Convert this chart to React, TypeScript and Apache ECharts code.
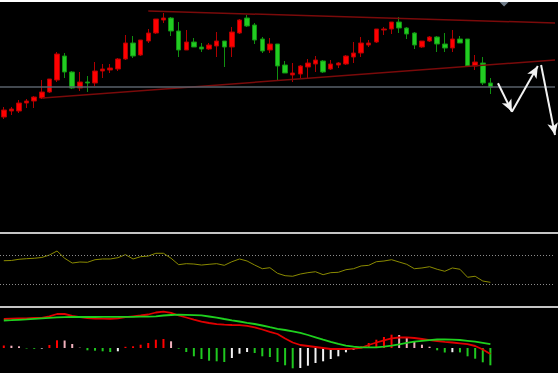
import React, { useEffect, useRef } from "react";
import * as echarts from "echarts";

// ---- data ----
const SLOT_COUNT = 73; // category slots (65 traded, the rest room for the forecast arrows)
const categories = Array.from({ length: SLOT_COUNT }, (_, i) => `D${i + 1}`);

// [open, close, low, high]
const candles = [
  [114, 121, 112, 124], [120, 122, 116, 124], [120, 128, 118, 131], [128, 130, 123, 132],
  [130, 134, 123, 135], [133, 139, 132, 151], [139, 152, 138, 152], [151, 177, 149, 179],
  [175, 159, 153, 178], [159, 143, 142, 160], [143, 149, 140, 159], [149, 148, 139, 155],
  [148, 160, 145, 169], [160, 162, 153, 167], [161, 163, 158, 167], [162, 172, 160, 173],
  [172, 188, 171, 196], [188, 175, 173, 195], [176, 191, 175, 191], [190, 198, 188, 202],
  [198, 212, 197, 212], [211, 213, 208, 218], [213, 200, 195, 214], [200, 181, 174, 209],
  [181, 189, 181, 201], [189, 184, 184, 193], [184, 182, 179, 188], [182, 186, 181, 188],
  [185, 190, 174, 199], [190, 184, 164, 190], [184, 199, 174, 204], [198, 211, 197, 212],
  [213, 205, 204, 216], [206, 191, 187, 208], [192, 180, 178, 194], [181, 187, 178, 193],
  [187, 165, 151, 187], [166, 158, 158, 170], [156, 158, 149, 168], [157, 165, 153, 166],
  [164, 168, 153, 172], [167, 171, 159, 175], [170, 159, 158, 171], [162, 167, 161, 171],
  [166, 168, 163, 169], [167, 175, 166, 176], [174, 178, 168, 189], [178, 188, 174, 194],
  [186, 188, 184, 191], [189, 202, 188, 202], [201, 202, 196, 204], [202, 209, 197, 209],
  [209, 203, 198, 214], [203, 197, 192, 204], [198, 186, 182, 199], [184, 190, 183, 190],
  [190, 194, 189, 195], [194, 187, 179, 195], [187, 183, 179, 198], [183, 192, 179, 201],
  [192, 188, 188, 195], [192, 165, 165, 192], [165, 169, 161, 176], [168, 148, 146, 174],
  [148, 144, 137, 153],
];

const rsi = [
  62.9, 63.2, 64.9, 65.7, 66.3, 67.4, 70.8, 76.4, 66.3, 59.7,
  61.1, 60.7, 64.3, 65.3, 65.3, 67.1, 71.3, 65.3, 68.5, 69.4,
  73.2, 73.2, 66.3, 57.4, 58.8, 58.3, 56.9, 57.9, 58.8, 56.5,
  61.5, 65.3, 62.5, 56.9, 51.8, 53.2, 45.4, 42.1, 41.3, 44.4,
  46.3, 47.6, 43.5, 46.3, 46.8, 50.4, 51.8, 55.6, 56.5, 61.5,
  62.5, 64.3, 61.1, 57.9, 51.8, 52.8, 54.6, 51, 48.2, 52.8,
  51, 39.9, 41.3, 34.7, 32.9,
];
const rsiLevels = [70, 30];

const dif = [
  29, 29.3, 29.5, 29.7, 30, 30.2, 31.7, 34, 34, 32.2,
  30.8, 29.8, 29.5, 29.3, 29.2, 29.7, 30.8, 31.7, 32.5, 33.5,
  35.5, 36.3, 35.2, 32.5, 30.5, 28.4, 26.4, 25, 23.8, 23.3,
  23, 22.8, 22.2, 20.7, 18.5, 16.2, 14, 9.5, 5.5, 3,
  2, 1, 0, -1, -1, -1, -0.7, 0.2, 3, 5.5,
  7.7, 9.7, 10.5, 10.6, 10, 9, 7.8, 7, 6.2, 5.5,
  4.7, 3.8, 2, -1.5, -6,
];
const dea = [
  27.5, 27.8, 28.2, 28.6, 29.1, 29.6, 30.1, 30.6, 30.8, 31,
  31, 31, 31, 31.1, 31.1, 31.1, 31.2, 31.2, 31.3, 31.4,
  31.7, 32.5, 33, 33.3, 33.2, 32.9, 32.6, 31.5, 30.4, 29,
  27.7, 26.5, 25.2, 24, 22.5, 20.8, 19.2, 18, 16.7, 15.1,
  13, 10.7, 8.4, 6.2, 4.1, 2.3, 1.3, 0.7, 0.6, 0.7,
  1.3, 2.3, 3.7, 5.2, 6.4, 7.2, 7.9, 8.5, 8.6, 8.4,
  8, 7.2, 6.4, 5.2, 3.8,
];
const macdHist = [
  2.5, 2.3, 1.7, -0.5, -0.8, -0.6, 3, 7.7, 7.5, 4,
  0.3, -2.3, -2.7, -3.3, -4, -3.3, 1.2, 1.7, 3.3, 5,
  8.3, 9, 6.7, -0.7, -4, -8.3, -11, -12.7, -13.3, -14,
  -10, -5.7, -4, -5, -8.3, -9, -14, -17.3, -20.3, -20,
  -17.7, -15, -13.3, -11, -8.3, -4.3, -1.7, 1.7, 5, 8.3,
  11, 13.3, 13, 10, 6, 3.3, 1.3, -2.3, -4.5, -4.2,
  -4.4, -8.3, -10.7, -14.3, -17.3,
];

const lastPriceLine = 144;
// trend lines and forecast arrows: [slot index, price]
const upperTrend = [[19, 220], [72.5, 208]];
const lowerTrend = [[5.1, 133], [72.5, 171]];
const arrowPaths = [
  [[65.0, 147.7], [66.83, 119.3]],
  [[66.83, 119.3], [70.24, 165]],
  [[70.67, 166], [72.5, 96]],
];
const markerPoint = [65.8, 227];

function histColor(i: number) {
  const v = macdHist[i];
  const prev = i > 0 ? macdHist[i - 1] : v;
  if (v >= 0) return v >= prev ? "#ff0000" : "#f0b0bc";
  return v <= prev ? "#1fc81f" : "#f2f2f2";
}

export default function App() {
  const ref = useRef<HTMLDivElement>(null);
  useEffect(() => {
    if (!ref.current) return;
    const chart = echarts.init(ref.current, undefined, { renderer: "svg" });
    const gridBase = { left: -3, right: 3 };
    const option: any = {
      animation: false,
      backgroundColor: "#000000",
      grid: [
        { ...gridBase, top: 0, height: 231 },
        { ...gridBase, top: 234, height: 72 },
        { ...gridBase, top: 308, height: 65 },
      ],
      xAxis: [
        { type: "category", data: categories, gridIndex: 0, show: false },
        { type: "value", gridIndex: 0, min: -0.5, max: SLOT_COUNT - 0.5, show: false },
        { type: "category", data: categories, gridIndex: 1, show: false },
        { type: "category", data: categories, gridIndex: 2, show: false },
      ],
      yAxis: [
        { type: "value", gridIndex: 0, min: 0, max: 231, show: false },
        { type: "value", gridIndex: 1, min: 0, max: 100, show: false },
        { type: "value", gridIndex: 2, min: -25, max: 40, show: false },
      ],
      series: [
        {
          type: "candlestick",
          xAxisIndex: 0,
          yAxisIndex: 0,
          data: candles,
          barWidth: 5,
          itemStyle: {
            color: "#ff0000",
            color0: "#22cc22",
            borderColor: "#b00000",
            borderColor0: "#109010",
            borderWidth: 1,
          },
          markLine: {
            silent: true,
            symbol: "none",
            label: { show: false },
            lineStyle: { color: "#58616a", width: 1.5, type: "solid" },
            data: [{ yAxis: lastPriceLine }],
          },
        },
        {
          type: "line",
          xAxisIndex: 1,
          yAxisIndex: 0,
          data: upperTrend,
          showSymbol: false,
          clip: false,
          lineStyle: { color: "#7a0a0a", width: 1.5 },
          markLine: {
            silent: true,
            symbol: ["none", "arrow"],
            symbolSize: [8, 12],
            label: { show: false },
            lineStyle: { color: "#f2f2f2", width: 2, type: "solid" },
            data: arrowPaths.map((p) => [{ coord: p[0] }, { coord: p[1] }]),
          },
          markPoint: {
            silent: true,
            symbol: "triangle",
            symbolRotate: 180,
            symbolSize: [10, 5],
            label: { show: false },
            itemStyle: { color: "#6f7c89" },
            data: [{ coord: markerPoint }],
          },
        },
        {
          type: "line",
          xAxisIndex: 1,
          yAxisIndex: 0,
          data: lowerTrend,
          showSymbol: false,
          lineStyle: { color: "#7a0a0a", width: 1.5 },
        },
        {
          type: "line",
          xAxisIndex: 2,
          yAxisIndex: 1,
          data: rsi,
          showSymbol: false,
          lineStyle: { color: "#8a8a00", width: 1 },
          markLine: {
            silent: true,
            symbol: "none",
            label: { show: false },
            lineStyle: { color: "#8c8c8c", width: 1, type: [1, 2] },
            data: rsiLevels.map((v) => ({ yAxis: v })),
          },
        },
        {
          type: "bar",
          xAxisIndex: 3,
          yAxisIndex: 2,
          barWidth: 2,
          data: macdHist.map((v, i) => ({ value: v, itemStyle: { color: histColor(i) } })),
        },
        {
          type: "line",
          xAxisIndex: 3,
          yAxisIndex: 2,
          data: dif,
          showSymbol: false,
          lineStyle: { color: "#e00000", width: 1.8 },
        },
        {
          type: "line",
          xAxisIndex: 3,
          yAxisIndex: 2,
          data: dea,
          showSymbol: false,
          lineStyle: { color: "#1ed01e", width: 1.8 },
        },
      ],
      graphic: [
        { type: "rect", shape: { x: 0, y: 0, width: 558, height: 2 }, style: { fill: "#ffffff" }, z: 100 },
        { type: "rect", shape: { x: 0, y: 232, width: 558, height: 2 }, style: { fill: "#c4c4c4" }, z: 100 },
        { type: "rect", shape: { x: 0, y: 306, width: 558, height: 2 }, style: { fill: "#c4c4c4" }, z: 100 },
      ],
    };
    chart.setOption(option);
    return () => chart.dispose();
  }, []);
  return (
    <>
      <style>{`body{margin:0;background:#000;}`}</style>
      <div ref={ref} style={{ width: 558, height: 373 }} />
    </>
  );
}
